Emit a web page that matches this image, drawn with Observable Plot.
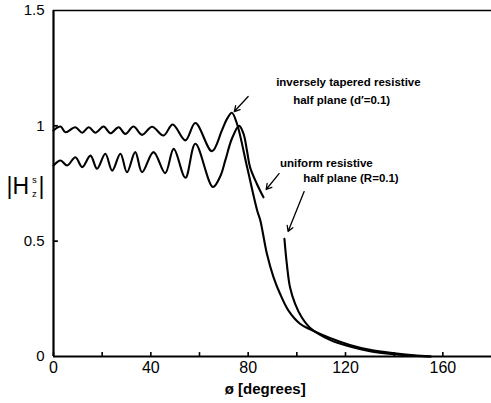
<!DOCTYPE html>
<html>
<head>
<meta charset="utf-8">
<script src="https://cdn.jsdelivr.net/npm/d3@7"></script>
<script src="https://cdn.jsdelivr.net/npm/@observablehq/plot@0.6"></script>
<style>
  html, body { margin: 0; padding: 0; background: #fff; }
  #chart svg { display: block; }
</style>
</head>
<body>
<div id="chart"></div>
<script>
// Inversely tapered resistive half plane (d' = 0.1)
const phiTapered = [0, 2.9, 4.9, 9.0, 11.8, 14.5, 17.2, 20.6, 23.4, 26.8, 29.5, 32.9, 36.4, 40.5, 45.2, 49.0, 54.2, 58.3, 65.1, 69.2, 71.3, 73.3, 75.4, 79.6, 83.7, 85.0, 87.7, 90.4, 93.1, 96.5, 101.3, 105.4, 113.6, 121.8, 130, 141, 148, 155];
const hTapered   = [0.980, 0.997, 0.972, 0.994, 0.970, 0.994, 0.970, 0.997, 0.968, 0.994, 0.965, 0.997, 0.961, 0.996, 0.958, 1.006, 0.937, 1.012, 0.890, 0.980, 1.030, 1.057, 1.009, 0.819, 0.633, 0.590, 0.445, 0.344, 0.272, 0.200, 0.142, 0.118, 0.080, 0.050, 0.029, 0.013, 0.005, 0.000];

// Uniform resistive half plane (R = 0.1), part before the gap
const phiUniformA = [0, 2.9, 5.6, 9.0, 11.8, 15.2, 17.9, 21.3, 24.1, 27.5, 30.2, 33.6, 36.4, 41.1, 45.9, 49.4, 54.2, 58.3, 65.5, 68.5, 70.6, 73.3, 76.3, 78.1, 79.5, 80.8, 83.6, 86.3];
const hUniformA   = [0.828, 0.850, 0.828, 0.864, 0.821, 0.871, 0.814, 0.879, 0.806, 0.879, 0.799, 0.886, 0.799, 0.886, 0.795, 0.900, 0.775, 0.922, 0.735, 0.780, 0.850, 0.944, 1.000, 0.965, 0.893, 0.820, 0.748, 0.690];

// Uniform resistive half plane (R = 0.1), part after the gap
const phiUniformB = [94.9, 95.9, 97.2, 99.3, 102, 105.4, 113.6, 121.8, 130, 141, 148, 155];
const hUniformB   = [0.510, 0.400, 0.300, 0.228, 0.170, 0.125, 0.072, 0.043, 0.023, 0.009, 0.003, 0.000];

const xTickValues = [0, 40, 80, 120, 160];
const xMinorTicks = [20, 60, 100, 140];
const yTickValues = [0, 0.5, 1, 1.5];
const yInnerTicks = [0.5, 1];

const labelLines = ["inversely tapered resistive", "half plane (d\u2032=0.1)", "uniform resistive", "half plane (R=0.1)"];
const labelPhi   = [91.5, 98.5, 93.1, 102.6];
const labelH     = [1.188, 1.110, 0.837, 0.772];

const arrowFromPhi = [80.0, 92.7, 103.0];
const arrowFromH   = [1.127, 0.793, 0.715];
const arrowToPhi   = [74.3, 87.4, 96.4];
const arrowToH     = [1.062, 0.724, 0.542];

const toRows = (xs, ys) => xs.map((x, i) => ({x, y: ys[i]}));
const labels = labelLines.map((t, i) => ({t, x: labelPhi[i], y: labelH[i]}));
const arrows = arrowFromPhi.map((x1, i) => ({x1, y1: arrowFromH[i], x2: arrowToPhi[i], y2: arrowToH[i]}));

const font = "'Liberation Sans', Arial, sans-serif";

const chart = Plot.plot({
  width: 491,
  height: 403,
  marginLeft: 53,
  marginRight: 0,
  marginTop: 10,
  marginBottom: 47,
  style: {fontFamily: font, background: "#fff", color: "#000"},
  x: {domain: [0, 180]},
  y: {domain: [0, 1.5]},
  marks: [
    // frame lines
    Plot.ruleX([0], {strokeWidth: 2.2}),
    Plot.ruleY([0], {strokeWidth: 2.2}),
    Plot.ruleY([1.5], {strokeWidth: 1.6}),
    // inward ticks
    Plot.ruleX(xTickValues.concat(xMinorTicks), {y1: 0, y2: 0.017, strokeWidth: 1.6}),
    Plot.ruleY(yInnerTicks, {x1: 0, x2: 2, strokeWidth: 1.8}),
    // tick labels
    Plot.axisX({ticks: xTickValues, tickSize: 0, tickPadding: 5, fontSize: 16, tickFormat: d => String(d), label: null}),
    Plot.axisY({ticks: yTickValues, tickSize: 0, tickPadding: 9, fontSize: 15, tickFormat: d => String(d), label: null}),
    // curves
    Plot.line(toRows(phiTapered, hTapered), {x: "x", y: "y", curve: "catmull-rom", strokeWidth: 2.1}),
    Plot.line(toRows(phiUniformA, hUniformA), {x: "x", y: "y", curve: "catmull-rom", strokeWidth: 2.1}),
    Plot.line(toRows(phiUniformB, hUniformB), {x: "x", y: "y", curve: "catmull-rom", strokeWidth: 2.1}),
    // annotations
    Plot.arrow(arrows, {x1: "x1", y1: "y1", x2: "x2", y2: "y2", strokeWidth: 1.3, headLength: 7}),
    Plot.text(labels, {x: "x", y: "y", text: "t", textAnchor: "start", fontSize: 11.5, fontWeight: "bold"}),
    // y-axis label |H_z^s|
    Plot.text(["|H"], {frameAnchor: "left", y: [0.737], dx: -47, textAnchor: "start", fontSize: 23}),
    Plot.text(["s"], {frameAnchor: "left", y: [0.737], dx: -21.5, dy: -7, textAnchor: "start", fontSize: 9.5}),
    Plot.text(["z"], {frameAnchor: "left", y: [0.737], dx: -21.5, dy: 7, textAnchor: "start", fontSize: 9.5}),
    Plot.text(["|"], {frameAnchor: "left", y: [0.737], dx: -15, textAnchor: "start", fontSize: 23}),
    // x-axis label
    Plot.text(["\u00f8 [degrees]"], {frameAnchor: "bottom", x: [87], dy: 37, fontSize: 15, fontWeight: "bold"})
  ]
});
document.getElementById("chart").append(chart);
</script>
</body>
</html>
